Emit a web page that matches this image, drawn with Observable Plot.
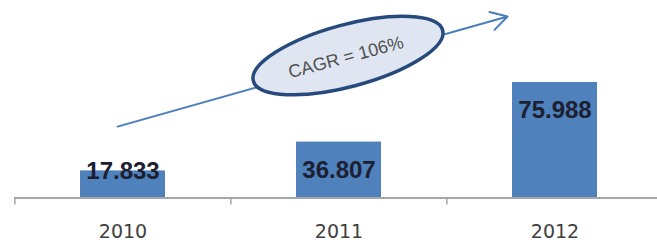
<!DOCTYPE html>
<html>
<head>
<meta charset="utf-8">
<script src="https://cdn.jsdelivr.net/npm/d3@7"></script>
<script src="https://cdn.jsdelivr.net/npm/@observablehq/plot@0.6"></script>
<style>
  html, body { margin: 0; padding: 0; background: #fff; overflow: hidden; }
</style>
</head>
<body>
<div id="chart"></div>
<script>
// Data
const years = ["2010", "2011", "2012"];
const values = [17.833, 36.807, 75.988];
const valueLabels = ["17.833", "36.807", "75.988"];
const cagrLabel = "CAGR = 106%";
// trend arrow (value units, from first to last category)
const trendStart = 48.0;
const trendEnd = 128.2;

const data = years.map((y, i) => ({year: y, value: values[i], label: valueLabels[i]}));

const W = 657, H = 242;
const xRange = [14.2, 662.8];
const step = (xRange[1] - xRange[0]) / years.length;

const ellipse = {
  draw(ctx) {
    const rx = 98, ry = 31, k = 0.5523;
    ctx.moveTo(rx, 0);
    ctx.bezierCurveTo(rx, k * ry, k * rx, ry, 0, ry);
    ctx.bezierCurveTo(-k * rx, ry, -rx, k * ry, -rx, 0);
    ctx.bezierCurveTo(-rx, -k * ry, -k * rx, -ry, 0, -ry);
    ctx.bezierCurveTo(k * rx, -ry, rx, -k * ry, rx, 0);
    ctx.closePath();
  }
};

const chart = Plot.plot({
  width: W,
  height: H,
  marginLeft: 14,
  marginRight: 0,
  marginTop: 45.5,
  marginBottom: 44.5,
  style: {background: "#fff", fontFamily: "DejaVu Sans"},
  x: {domain: years, range: xRange, paddingInner: 0.605, paddingOuter: 0.3025, axis: null, label: null},
  y: {domain: [0, 100], axis: null},
  marks: [
    Plot.barY(data, {x: "year", y: "value", fill: "#4f81bd"}),
    Plot.ruleY([0], {stroke: "#a6a6a6", strokeWidth: 2}),
    Plot.ruleX(years, {x: d => d, dx: -step / 2, y1: 0, y2: 0, insetBottom: -7, stroke: "#a6a6a6", strokeWidth: 1.5}),
    Plot.axisX({tickSize: 0, tickPadding: 26, fontSize: 19, fill: "#404040", fontFamily: "DejaVu Sans", label: null}),
    Plot.text(data.filter(d => d.value < 30), {x: "year", y: "value", text: "label", fontSize: 24, fontWeight: "bold", fill: "#1c2030", fontFamily: "Liberation Sans", dy: 0}),
    Plot.text(data.filter(d => d.value >= 30), {x: "year", y: "value", text: "label", fontSize: 24, fontWeight: "bold", fill: "#1c2030", fontFamily: "Liberation Sans", dy: 28}),
    Plot.arrow([{}], {x1: () => years[0], y1: () => trendStart, x2: () => years[2], y2: () => trendEnd,
      insetStart: -5.7, insetEnd: 49.3, stroke: "#4a7ebb", strokeWidth: 2, headLength: 14, bend: 0}),
    Plot.dot([{}], {x: () => years[1], dx: 9, y: () => 93.7, symbol: ellipse, rotate: -15,
      fill: "#dfe6f1", stroke: "#264a7c", strokeWidth: 3.5}),
    Plot.text([cagrLabel], {x: () => years[1], dx: 7, y: () => 92.5, text: d => d, rotate: -15,
      fontSize: 18, fill: "#505050", fontFamily: "Liberation Sans"})
  ]
});
document.getElementById("chart").appendChild(chart);
</script>
</body>
</html>
